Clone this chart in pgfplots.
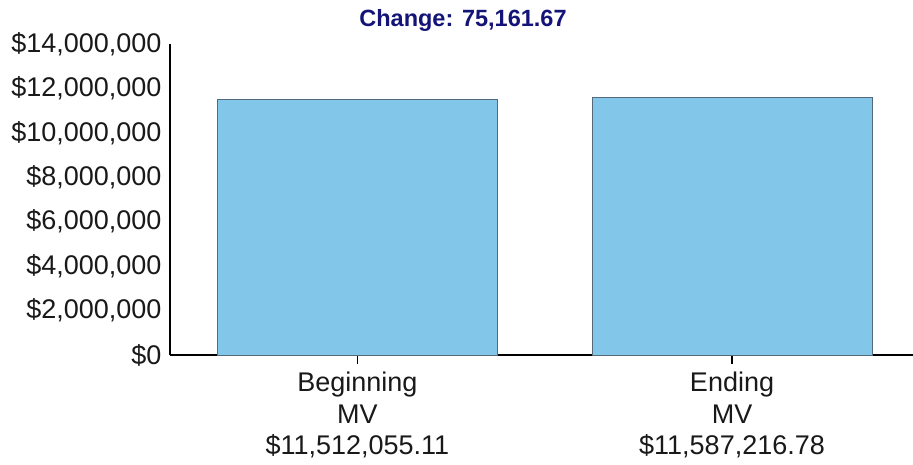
\documentclass[border=0pt]{standalone}
\usepackage{fontspec}
\setmainfont{Liberation Sans}
\usepackage{pgfplots}
\pgfplotsset{compat=1.18}
\definecolor{barblue}{RGB}{130,199,234}
\definecolor{baredge}{RGB}{85,105,120}
\definecolor{titleblue}{RGB}{20,20,120}
\begin{document}
\begin{tikzpicture}
\useasboundingbox (0,0) rectangle (913pt,464pt);
\begin{axis}[
  at={(170pt,109pt)}, anchor=south west,
  scale only axis, width=743pt, height=311pt,
  xmin=-0.5, xmax=1.483, ymin=0, ymax=14000000,
  axis x line=bottom, axis y line=left,
  axis line style={-, line width=1.6pt, black},
  clip=false,
  xtick={0,1},
  xticklabels={{Beginning\\MV\\\$11,512,055.11},{Ending\\MV\\\$11,587,216.78}},
  x tick label style={align=center, font=\fontsize{27}{31.5}\selectfont, text=black!90, inner sep=1pt, yshift=-7pt},
  ytick={0,2000000,4000000,6000000,8000000,10000000,12000000,14000000},
  yticklabels={\$0,{\$2,000,000},{\$4,000,000},{\$6,000,000},{\$8,000,000},{\$10,000,000},{\$12,000,000},{\$14,000,000}},
  y tick label style={font=\fontsize{27}{31}\selectfont, text=black!90, xshift=4pt},
  tick align=outside,
  major tick length=9pt,
  xtick style={black, line width=1.6pt},
  ytick style={draw=none},
  scaled y ticks=false,
]
\addplot[ybar, bar width=280pt, fill=barblue, draw=baredge, line width=0.8pt]
  coordinates {(0,11512055.11) (1,11587216.78)};
\end{axis}
\node[font=\bfseries\fontsize{23.5}{27}\selectfont, text=titleblue] at (463pt,444pt) {Change: 75,161.67};
\end{tikzpicture}
\end{document}
